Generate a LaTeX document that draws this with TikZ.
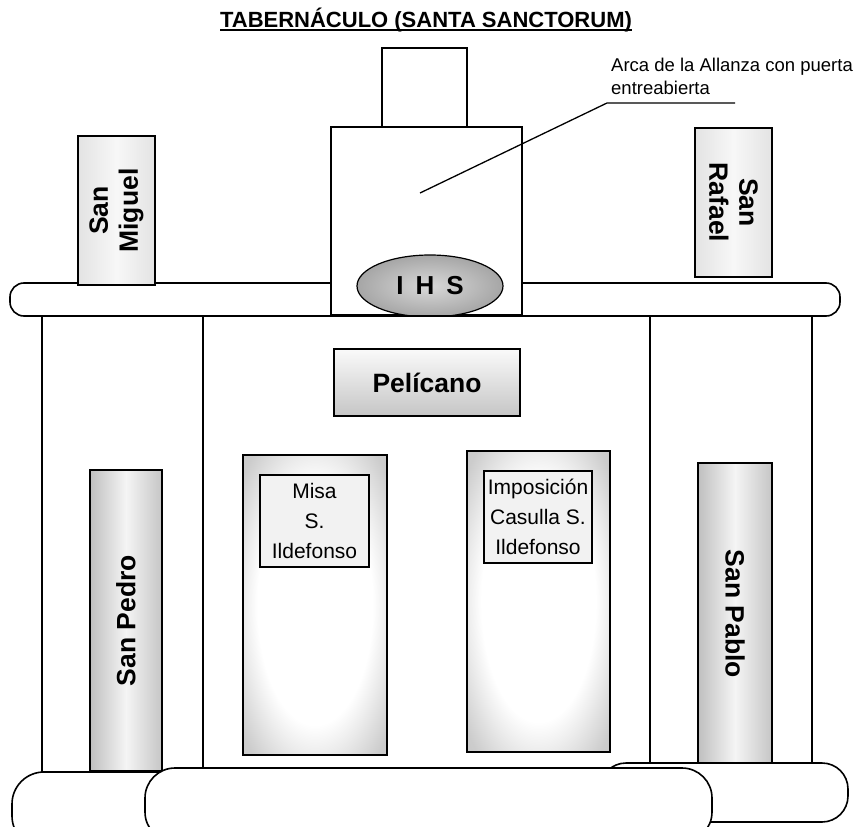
\documentclass[tikz,border=0pt]{standalone}
\usepackage{fontspec}
\setmainfont{Liberation Sans}
\usetikzlibrary{shapes.geometric}
\pgfdeclareradialshading{doorshade}{\pgfpoint{0bp}{0bp}}{color(0bp)=(white); color(20bp)=(white); color(25bp)=(gray!15); color(33bp)=(gray!40); color(50bp)=(gray!50)}
\newcommand\thickul[1]{\setbox0\hbox{#1}\rlap{\rule[-3.5pt]{\wd0}{1.6pt}}\box0}
\tikzset{
  outl/.style={draw=black, line width=1.6pt, inner sep=0pt, outer sep=0pt},
  plain/.style={outl, fill=white},
  base/.style={outl, fill=white, rounded corners=#1},
  saint/.style={outl, left color=gray!22, right color=gray!22, middle color=gray!6},
  column/.style={outl, left color=gray!50, right color=gray!45, middle color=gray!8},
  door/.style={outl, shading=doorshade},
  doorbox/.style={outl, fill=gray!10},
  lbl/.style={font=\fontsize{26.5}{30}\selectfont\bfseries, align=center, inner sep=0pt},
  doorlbl/.style={font=\fontsize{21}{30}\selectfont, align=center, inner sep=0pt},
}
\begin{document}
\begin{tikzpicture}[x=1pt,y=-1pt]
\useasboundingbox (0,0) rectangle (857,827);
\clip (0,0) rectangle (857,827);
% title
\node[font=\fontsize{22}{26}\selectfont\bfseries] (title) at (426,20) {\thickul{TABERNÁCULO (SANTA SANCTORUM)}};
% upper part
\node[plain, rounded corners=14pt, minimum width=830pt, minimum height=33pt] (bar) at (425,299.5) {};
\node[plain, minimum width=85pt, minimum height=79pt] (crown) at (424.5,87.5) {};
\node[plain, minimum width=191pt, minimum height=188pt] (arca) at (426.5,221) {};
\node[outl, ellipse, line width=1.2pt, inner color=gray!30, outer color=gray!70, minimum width=146pt, minimum height=62pt] (ihs) at (430,286) {};
\node[lbl, font=\fontsize{26}{30}\selectfont\bfseries] (ihstxt) at (ihs) {I\hspace{12pt}H\hspace{12pt}S};
\node[saint, minimum width=77pt, minimum height=149pt] (miguel) at (116.5,210.5) {};
\node[lbl, rotate=90] (migueltxt) at (miguel) {San\\Miguel};
\node[saint, minimum width=77pt, minimum height=149pt] (rafael) at (733.5,202.5) {};
\node[lbl, rotate=-90] (rafaeltxt) at (rafael) {San\\Rafael};
% label with leader
\node[font=\fontsize{18.5}{23}\selectfont, align=left, anchor=north west, inner sep=0pt] (arcalbl) at (611,58) {Arca de la Allanza con puerta\\entreabierta};
\coordinate (tip) at (420,193);
\coordinate (knee) at (607,103);
\coordinate (lend) at (735,103);
\draw[line width=1.3pt] (tip) -- (knee) -- (lend);
% body
\node[plain, minimum width=161pt, minimum height=456pt] (lpill) at (122.5,544) {};
\node[plain, minimum width=447pt, minimum height=452pt] (mid) at (426.5,542) {};
\node[plain, minimum width=162pt, minimum height=447pt] (rpill) at (731,539.5) {};
\node[outl, top color=gray!4, bottom color=gray!45, minimum width=186pt, minimum height=67pt] (pelicano) at (427,382.5) {};
\node[lbl] (pelicanotxt) at (pelicano) {Pelícano};
\node[column, minimum width=72pt, minimum height=301pt] (pedro) at (126,620.5) {};
\node[lbl, rotate=90] (pedrotxt) at (pedro) {San Pedro};
\node[column, minimum width=74pt, minimum height=302pt] (pablo) at (735,614) {};
\node[lbl, rotate=-90] (pablotxt) at (pablo) {San Pablo};
\node[door, minimum width=144pt, minimum height=300pt] (misa) at (315,605) {};
\node[doorbox, minimum width=109pt, minimum height=92pt] (misabox) at (314.5,521) {};
\node[doorlbl] (misatxt) at (misabox) {Misa\\S.\\Ildefonso};
\node[door, minimum width=143pt, minimum height=301pt] (impos) at (538.5,601.5) {};
\node[doorbox, minimum width=108pt, minimum height=92pt] (imposbox) at (538,517) {};
\node[doorlbl] (impostxt) at (imposbox) {Imposición\\Casulla S.\\Ildefonso};
% bases
\node[base=32pt, minimum width=288pt, minimum height=76pt] (lbase) at (156,810) {};
\node[base=26pt, minimum width=248pt, minimum height=59pt] (rbase) at (724,792.5) {};
\node[base=30pt, minimum width=567pt, minimum height=74pt] (mbase) at (428.5,805) {};
\end{tikzpicture}
\end{document}
